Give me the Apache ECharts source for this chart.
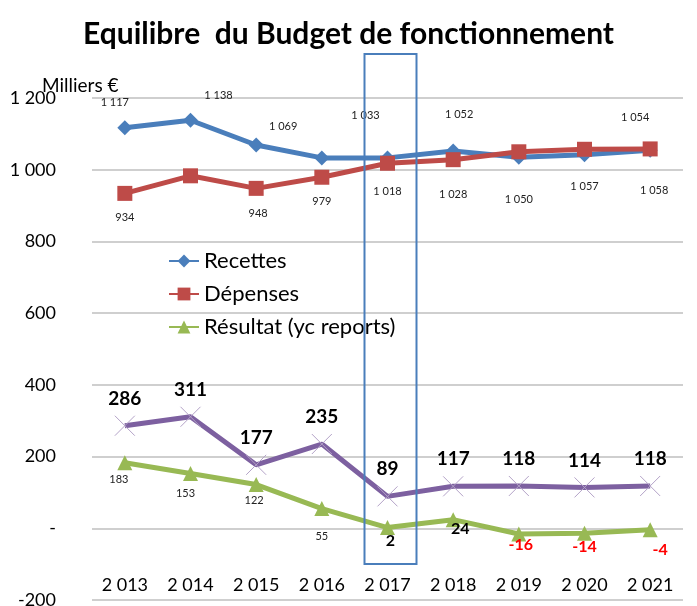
<!DOCTYPE html>
<html>
<head>
<meta charset="utf-8">
<script src="https://cdn.jsdelivr.net/npm/echarts@6/dist/echarts.min.js"></script>
<style>
  body { margin: 0; background: #fff; }
  #budgetChart { width: 697px; height: 606px; }
</style>
</head>
<body>
<div id="budgetChart"></div>
<script>
// data
var years = ['2 013', '2 014', '2 015', '2 016', '2 017', '2 018', '2 019', '2 020', '2 021'];
var recettes = [1117, 1138, 1069, 1033, 1033, 1052, 1035, 1042, 1054];
var depenses = [934, 983, 948, 979, 1018, 1028, 1050, 1057, 1058];
var resultat = [183, 153, 122, 55, 2, 24, -16, -14, -4];
var cumul = [286, 311, 177, 235, 89, 117, 118, 114, 118];
var yTicks = { min: -200, max: 1200, step: 200 };

function fmt(v) {
  if (v === 0) return '-';
  var s = String(Math.abs(v));
  if (s.length > 3) s = s.slice(0, s.length - 3) + ' ' + s.slice(-3);
  return (v < 0 ? '-' : '') + s;
}

// label offsets (px from the point) as placed in the original sheet; null = no label
var recOffsets = [[-10, -25], [28, -25], [27, -19], null, [-22, -42], [6, -37], null, null, [-15, -33]];
var depOffsets = [[0, 24], null, [2, 25], [0, 24], [0, 28], [0, 35], [0, 48], [0, 37], [4, 42]];
var resOffsets = [[-6, 17], [-5, 20], [-2, 16], [0, 28], [3, 13], [7, 9], [2, 11], [0, 14], [10, 20]];

function withLabels(values, offsets, styler) {
  return values.map(function (v, i) {
    var off = offsets[i];
    if (!off) return { value: v, label: { show: false } };
    var lab = { show: true, position: 'inside', offset: off, formatter: fmt(v) };
    if (styler) Object.assign(lab, styler(v));
    return { value: v, label: lab };
  });
}

var smallLabel = { fontFamily: 'Lato', fontSize: 11, color: '#222' };

var option = {
  animation: false,
  title: {
    text: 'Equilibre  du Budget de fonctionnement',
    left: 'center',
    top: 14,
    textStyle: { fontFamily: 'Lato', fontSize: 30, fontWeight: 'bold', color: '#000' }
  },
  grid: { left: 92, right: 14, top: 98, bottom: 6, outerBoundsMode: 'none', containLabel: false },
  legend: {
    data: ['Recettes', 'Dépenses', 'Résultat (yc reports)'],
    orient: 'vertical',
    left: 163,
    top: 245,
    itemGap: 11,
    itemWidth: 30,
    itemHeight: 16,
    textStyle: { fontFamily: 'Lato', fontSize: 22, color: '#000' }
  },
  xAxis: {
    type: 'category',
    data: years,
    boundaryGap: true,
    offset: -36,
    axisLine: { onZero: false, show: false },
    axisTick: { show: false },
    axisLabel: { margin: 12, fontFamily: 'Lato', fontSize: 18, color: '#000' }
  },
  yAxis: {
    type: 'value',
    min: yTicks.min,
    max: yTicks.max,
    interval: yTicks.step,
    axisLine: { show: false },
    axisTick: { show: false },
    splitLine: { lineStyle: { color: '#bfbfbf', width: 1.5 } },
    axisLabel: { margin: 36, fontFamily: 'Lato', fontSize: 18, color: '#000', formatter: fmt }
  },
  series: [
    {
      name: 'Recettes',
      type: 'line',
      symbol: 'diamond',
      symbolSize: 15,
      lineStyle: { color: '#4a7ebb', width: 5 },
      itemStyle: { color: '#4a7ebb' },
      label: smallLabel,
      data: withLabels(recettes, recOffsets)
    },
    {
      name: 'Dépenses',
      type: 'line',
      symbol: 'rect',
      symbolSize: 15,
      lineStyle: { color: '#be4b48', width: 5 },
      itemStyle: { color: '#be4b48' },
      label: smallLabel,
      data: withLabels(depenses, depOffsets)
    },
    {
      name: 'Résultat (yc reports)',
      type: 'line',
      symbol: 'triangle',
      symbolSize: 15,
      lineStyle: { color: '#98b954', width: 5 },
      itemStyle: { color: '#98b954' },
      label: smallLabel,
      data: withLabels(resultat, resOffsets, function (v) {
        if (v < 0) return { color: '#ff0000', fontSize: 16, fontWeight: 'bold' };
        if (v < 50) return { color: '#000', fontSize: 16, fontWeight: 'bold' };
        return {};
      })
    },
    {
      name: 'Cumul',
      type: 'line',
      symbol: 'path://M0,0L10,10M10,0L0,10',
      symbolSize: 20,
      lineStyle: { color: '#7d60a0', width: 5 },
      itemStyle: { color: 'rgba(0,0,0,0)', borderColor: '#b3a2c7', borderWidth: 1 },
      label: {
        show: true,
        position: 'top',
        distance: 7,
        fontFamily: 'Lato',
        fontSize: 19,
        fontWeight: 'bold',
        color: '#000',
        formatter: function (p) { return fmt(p.value); }
      },
      data: cumul
    }
  ]
};

var budgetChart = echarts.init(document.getElementById('budgetChart'));
budgetChart.setOption(option);

// frame around 2017 and the unit caption
var cx = budgetChart.convertToPixel({ xAxisIndex: 0 }, years[4]);
budgetChart.setOption({
  graphic: [
    {
      type: 'rect',
      shape: { x: cx - 23, y: 54, width: 52, height: 510 },
      style: { fill: 'none', stroke: '#4a7ebb', lineWidth: 2 },
      z: 100
    },
    {
      type: 'text',
      left: 42,
      top: 76,
      style: { text: 'Milliers €', font: '19px Lato', fill: '#000' },
      z: 100
    }
  ]
});
</script>
</body>
</html>
